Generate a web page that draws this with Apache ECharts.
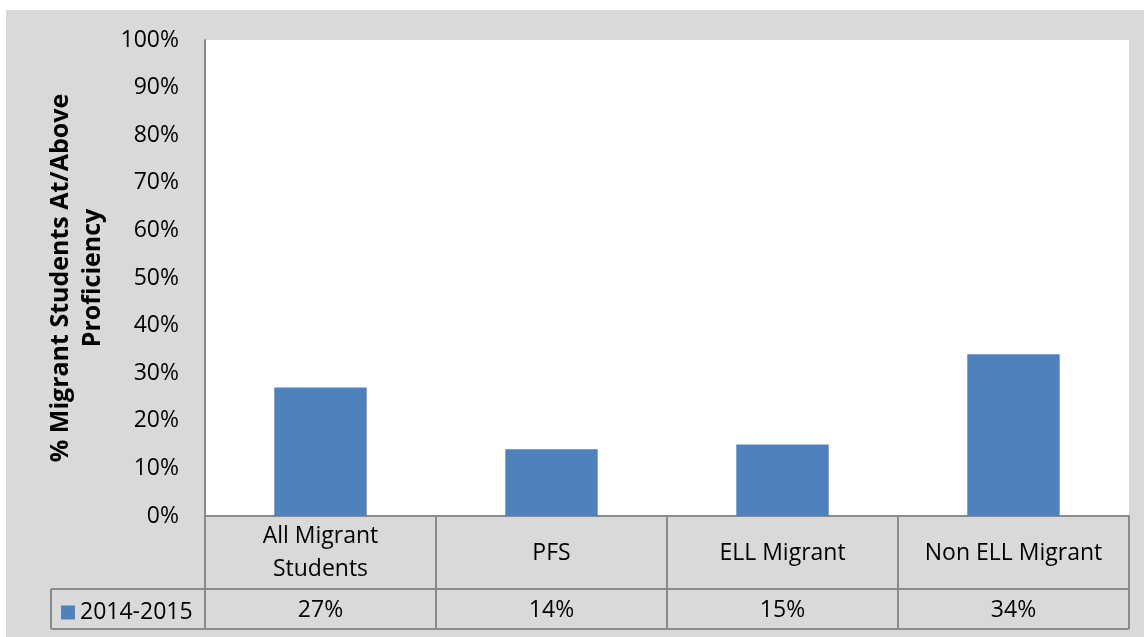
<!DOCTYPE html>
<html>
<head>
<meta charset="utf-8">
<script src="https://cdn.jsdelivr.net/npm/echarts@6/dist/echarts.min.js"></script>
<style>
  html, body { margin: 0; padding: 0; background: #ffffff; }
  #panel {
    position: absolute; left: 6px; top: 10px;
    width: 1138px; height: 627px;
    background: #d9d9d9;
  }
</style>
</head>
<body>
<div id="panel"></div>
<script>
// Proficiency by student group, school year 2014-2015
const categories = ['All Migrant\nStudents', 'PFS', 'ELL Migrant', 'Non ELL Migrant'];
const seriesName = '2014-2015';
const values = [27, 14, 15, 34];
const yTicks = [0, 10, 20, 30, 40, 50, 60, 70, 80, 90, 100];

const FONT = '"Open Sans", "Noto Sans", sans-serif';
const LINE = '#8a8a8a';
const BAR = '#4f81bd';

const chart = echarts.init(document.getElementById('panel'), null, { renderer: 'canvas' });

const gridLeft = 199, gridTop = 30, gridRight = 15, gridBottom = 121;
const rowH1 = 73;   // category row of the data table
const rowH2 = 40;   // value row of the data table

const option = {
  animation: false,
  textStyle: { fontFamily: FONT },
  grid: {
    left: gridLeft, top: gridTop, right: gridRight, bottom: gridBottom,
    show: true, backgroundColor: '#ffffff', borderWidth: 0
  },
  legend: {
    data: [seriesName],
    left: 50, top: 586,
    icon: 'rect', itemWidth: 14, itemHeight: 14, itemGap: 8,
    textStyle: { fontFamily: FONT, fontSize: 23, color: '#000' },
    selectedMode: false
  },
  xAxis: [
    {
      type: 'category',
      data: categories,
      position: 'bottom',
      axisLine: { show: true, lineStyle: { color: LINE, width: 2 } },
      axisTick: { show: true, interval: 0, length: rowH1 + rowH2, lineStyle: { color: LINE, width: 2 } },
      axisLabel: {
        interval: 0, margin: 37, verticalAlign: 'middle',
        fontFamily: FONT, fontSize: 23, color: '#000', lineHeight: 33
      },
      splitLine: { show: false }
    },
    {
      // value row of the data table, read from the same values array
      type: 'category',
      data: categories,
      position: 'bottom',
      offset: rowH1,
      axisLine: { show: true, lineStyle: { color: LINE, width: 2 } },
      axisTick: { show: false },
      axisLabel: {
        interval: 0, margin: 21, verticalAlign: 'middle',
        fontFamily: FONT, fontSize: 23, color: '#000',
        formatter: (v, i) => values[i] + '%'
      },
      splitLine: { show: false }
    }
  ],
  yAxis: {
    type: 'value',
    min: yTicks[0], max: yTicks[yTicks.length - 1], interval: 10,
    name: '% Migrant Students At/Above\nProficiency',
    nameLocation: 'middle', nameRotate: 90, nameGap: 96,
    nameTextStyle: { fontFamily: FONT, fontSize: 25, fontWeight: 'bold', color: '#000', lineHeight: 32 },
    axisLine: { show: true, lineStyle: { color: LINE, width: 2 } },
    axisTick: { show: false },
    splitLine: { show: false },
    axisLabel: {
      margin: 26, fontFamily: FONT, fontSize: 23, color: '#000',
      formatter: '{value}%'
    }
  },
  series: [{
    name: seriesName,
    type: 'bar',
    xAxisIndex: 0,
    data: values,
    barWidth: '40%',
    itemStyle: { color: BAR }
  }]
};
chart.setOption(option);

// Table border lines: bottom edge and the legend key cell
const left = gridLeft - 1;
const yRow2 = 627 - gridBottom + rowH1;
const yBottom = yRow2 + rowH2;
const xRight = 1138 - gridRight;
const cellLeft = 45;
chart.setOption({
  graphic: [
    { type: 'line', shape: { x1: cellLeft, y1: yBottom, x2: xRight, y2: yBottom }, style: { stroke: LINE, lineWidth: 2 } },
    { type: 'line', shape: { x1: cellLeft, y1: yRow2, x2: left, y2: yRow2 }, style: { stroke: LINE, lineWidth: 2 } },
    { type: 'line', shape: { x1: cellLeft, y1: yRow2, x2: cellLeft, y2: yBottom }, style: { stroke: LINE, lineWidth: 2 } },
    { type: 'line', shape: { x1: left + 1, y1: 627 - gridBottom, x2: left + 1, y2: yBottom }, style: { stroke: LINE, lineWidth: 2 } }
  ]
});
</script>
</body>
</html>
